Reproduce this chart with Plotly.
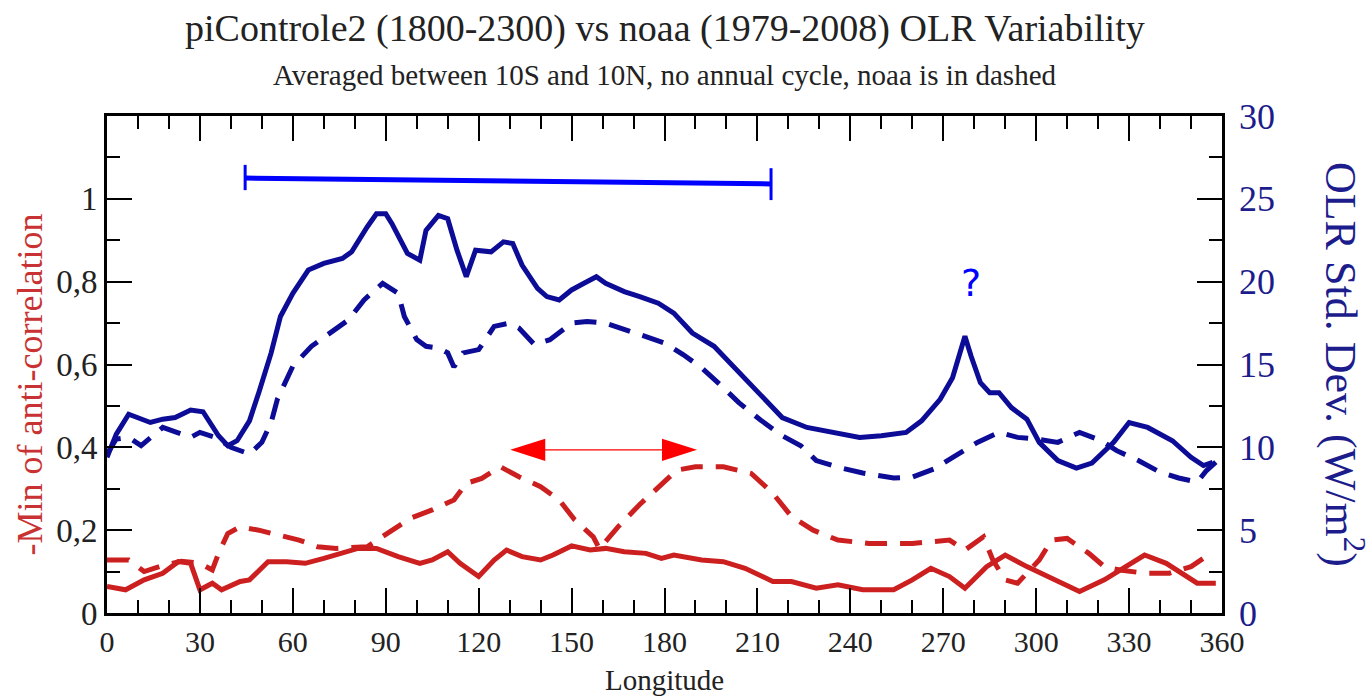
import plotly.graph_objects as go

# ---------------- data ----------------
lon_model_std = [0, 3, 7, 14, 18, 22, 27, 31, 36, 39, 42, 46, 49, 53, 56, 60, 65, 70, 76, 79, 84, 87, 90, 92,
                 97, 101, 103, 107, 110, 113, 116, 119, 124, 128, 131, 134, 139, 142, 146, 150, 154, 158, 161,
                 167, 172, 178, 183, 189, 196, 201, 207, 213, 218, 226, 234, 243, 250, 258, 263, 269, 273, 275,
                 277, 279, 282, 285, 288, 292, 297, 301, 307, 313, 318, 325, 330, 336, 344, 350, 354, 357]
model_std = [9.4, 10.8, 12.0, 11.5, 11.7, 11.8, 12.25, 12.15, 10.7, 10.1, 10.4, 11.6, 13.3, 15.7, 17.9, 19.3,
             20.7, 21.1, 21.4, 21.8, 23.3, 24.1, 24.1, 23.5, 21.7, 21.3, 23.1, 24.0, 23.8, 21.9, 20.3, 21.9,
             21.8, 22.4, 22.3, 21.0, 19.6, 19.1, 18.9, 19.5, 19.9, 20.3, 19.9, 19.4, 19.1, 18.7, 18.1, 16.9,
             16.1, 15.1, 13.9, 12.7, 11.8, 11.2, 10.9, 10.6, 10.7, 10.9, 11.6, 12.9, 14.2, 15.5, 16.7, 15.5,
             13.9, 13.3, 13.3, 12.4, 11.7, 10.3, 9.2, 8.75, 9.05, 10.3, 11.5, 11.2, 10.4, 9.4, 8.9, 9.1]

lon_noaa_std = [0, 3, 7, 11, 18, 23, 27, 30, 35, 40, 46, 50, 53, 55, 60, 66, 72, 78, 83, 89, 94, 96, 100, 103,
                107, 110, 112, 115, 120, 125, 130, 133, 138, 143, 150, 155, 161, 167, 174, 180, 186, 192, 199,
                204, 211, 218, 224, 229, 236, 244, 254, 260, 267, 273, 281, 288, 294, 300, 307, 314, 321, 326,
                333, 340, 346, 352, 355, 358]
noaa_std = [9.6, 10.5, 10.6, 10.1, 11.2, 10.9, 10.6, 10.9, 10.6, 10.0, 9.6, 10.3, 11.5, 12.9, 14.9, 16.1, 16.9,
            17.7, 18.9, 19.9, 19.3, 17.9, 16.5, 16.1, 16.0, 15.7, 14.85, 15.7, 15.9, 17.3, 17.5, 17.2, 16.2,
            16.5, 17.5, 17.6, 17.5, 17.1, 16.7, 16.3, 15.6, 14.8, 13.6, 12.7, 11.65, 10.7, 10.1, 9.2, 8.8,
            8.45, 8.15, 8.2, 8.7, 9.4, 10.3, 10.9, 10.6, 10.5, 10.3, 10.9, 10.4, 9.8, 9.2, 8.5, 8.15, 7.9,
            8.6, 9.1]

lon_model_corr = [0, 6, 12, 18, 23, 27, 30, 34, 37, 43, 46, 52, 58, 64, 70, 75, 81, 87, 94, 101, 105, 110, 114,
                  120, 125, 129, 134, 140, 144, 150, 156, 161, 167, 174, 179, 183, 192, 199, 206, 215, 221, 229,
                  236, 244, 254, 260, 266, 272, 277, 284, 290, 297, 305, 314, 322, 329, 335, 342, 347, 352, 358]
model_corr = [0.064, 0.056, 0.080, 0.096, 0.124, 0.120, 0.056, 0.072, 0.056, 0.076, 0.080, 0.124, 0.124,
              0.120, 0.132, 0.144, 0.156, 0.156, 0.136, 0.120, 0.128, 0.148, 0.120, 0.088, 0.128, 0.152,
              0.136, 0.128, 0.140, 0.162, 0.152, 0.156, 0.148, 0.144, 0.132, 0.140, 0.128, 0.124, 0.108,
              0.076, 0.076, 0.060, 0.068, 0.056, 0.056, 0.080, 0.108, 0.088, 0.060, 0.112, 0.140, 0.112,
              0.084, 0.052, 0.080, 0.112, 0.140, 0.120, 0.096, 0.072, 0.072]

lon_noaa_corr = [0, 7, 12, 18, 24, 30, 34, 36, 39, 43, 49, 56, 62, 68, 74, 84, 92, 98, 105, 112, 116, 121, 127,
                 133, 140, 146, 151, 157, 159, 165, 172, 178, 184, 190, 199, 208, 215, 221, 228, 236, 246, 260,
                 272, 277, 283, 286, 290, 294, 301, 305, 310, 317, 322, 327, 335, 343, 350, 354]
noaa_corr = [0.128, 0.128, 0.100, 0.115, 0.125, 0.120, 0.104, 0.144, 0.192, 0.208, 0.200, 0.188, 0.176,
             0.160, 0.156, 0.160, 0.200, 0.229, 0.249, 0.273, 0.313, 0.325, 0.353, 0.329, 0.305, 0.273,
             0.225, 0.184, 0.155, 0.208, 0.262, 0.305, 0.345, 0.353, 0.353, 0.337, 0.289, 0.233, 0.200,
             0.176, 0.168, 0.168, 0.176, 0.152, 0.184, 0.128, 0.080, 0.072, 0.128, 0.176, 0.180, 0.144,
             0.112, 0.104, 0.096, 0.096, 0.112, 0.132]

x_tick_vals = [0, 30, 60, 90, 120, 150, 180, 210, 240, 270, 300, 330, 360]
y_left_tick_vals = [0, 0.2, 0.4, 0.6, 0.8, 1.0]
y_left_tick_text = ["0", "0,2", "0,4", "0,6", "0,8", "1"]
y_right_tick_vals = [0, 5, 10, 15, 20, 25, 30]

title_text = "piControle2 (1800-2300) vs noaa (1979-2008) OLR Variability"
subtitle_text = "Averaged between 10S and 10N, no annual cycle, noaa is in dashed"

# ---------------- styles ----------------
RED = "#cc1f1f"
BLUE = "#0c0c96"
SERIF = "Liberation Serif"
DASH = "22px,13px"
LW = 5

fig = go.Figure()
fig.add_trace(go.Scatter(x=lon_model_corr, y=model_corr, mode="lines",
                         line=dict(color=RED, width=LW), yaxis="y", showlegend=False))
fig.add_trace(go.Scatter(x=lon_noaa_corr, y=noaa_corr, mode="lines",
                         line=dict(color=RED, width=LW, dash=DASH), yaxis="y", showlegend=False))
fig.add_trace(go.Scatter(x=lon_model_std, y=model_std, mode="lines",
                         line=dict(color=BLUE, width=LW), yaxis="y2", showlegend=False))
fig.add_trace(go.Scatter(x=lon_noaa_std, y=noaa_std, mode="lines",
                         line=dict(color=BLUE, width=LW, dash=DASH), yaxis="y2", showlegend=False))

# annotations: blue range bar, red double arrow, question mark
bar_color = "#0000ff"
fig.add_shape(type="line", xref="x", yref="y", x0=44.6, y0=1.050, x1=214.4, y1=1.036,
              line=dict(color=bar_color, width=5))
fig.add_shape(type="line", xref="x", yref="y", x0=44.6, y0=1.082, x1=44.6, y1=1.021,
              line=dict(color=bar_color, width=3))
fig.add_shape(type="line", xref="x", yref="y", x0=214.4, y0=1.074, x1=214.4, y1=0.997,
              line=dict(color=bar_color, width=3))

fig.add_shape(type="line", xref="x", yref="y", x0=135, y0=0.394, x1=186, y1=0.394,
              line=dict(color="#ff0000", width=1.2))
fig.add_shape(type="path", xref="x", yref="y",
              path="M 130.2,0.394 L 141.5,0.421 L 141.5,0.367 Z",
              fillcolor="#ff0000", line=dict(color="#ff0000", width=0))
fig.add_shape(type="path", xref="x", yref="y",
              path="M 190.5,0.394 L 179.2,0.421 L 179.2,0.367 Z",
              fillcolor="#ff0000", line=dict(color="#ff0000", width=0))

fig.add_annotation(x=279, y=0.797, xref="x", yref="y", text="?", showarrow=False,
                   font=dict(family="DejaVu Sans", size=38, color="#0000ff"))

# titles
fig.add_annotation(x=0.5, y=1.177, xref="paper", yref="paper", text=title_text, showarrow=False,
                   font=dict(family=SERIF, size=38, color="#222222"), yanchor="middle")
fig.add_annotation(x=0.5, y=1.0825, xref="paper", yref="paper", text=subtitle_text, showarrow=False,
                   font=dict(family=SERIF, size=29, color="#222222"), yanchor="middle")
fig.add_annotation(x=0.5, y=-0.135, xref="paper", yref="paper", text="Longitude", showarrow=False,
                   font=dict(family=SERIF, size=29, color="#222222"), yanchor="middle")
fig.add_annotation(x=-0.069, y=0.46, xref="paper", yref="paper", text="-Min of anti-correlation",
                   showarrow=False, textangle=-90,
                   font=dict(family=SERIF, size=36, color="#c83232"), xanchor="center", yanchor="middle")
fig.add_annotation(x=1.109, y=0.50, xref="paper", yref="paper", text="OLR Std. Dev. (W/m<sup>2</sup>)",
                   showarrow=False, textangle=90,
                   font=dict(family=SERIF, size=44, color="#1c1c8c"), xanchor="center", yanchor="middle")

fig.update_layout(
    width=1372, height=696,
    margin=dict(l=107, r=150, t=116, b=83),
    paper_bgcolor="white", plot_bgcolor="white",
    xaxis=dict(range=[0, 360], tickmode="array", tickvals=x_tick_vals,
               ticks="inside", ticklen=25, tickwidth=2, tickcolor="black",
               minor=dict(tickmode="linear", tick0=0, dtick=10, ticks="inside", ticklen=13,
                          tickwidth=2, tickcolor="black", showgrid=False),
               showline=True, linewidth=3, linecolor="black", mirror="ticks",
               showgrid=False, zeroline=False,
               tickfont=dict(family=SERIF, size=30, color="#222222")),
    yaxis=dict(range=[0, 1.2], tickmode="array", tickvals=y_left_tick_vals, ticktext=y_left_tick_text,
               ticks="inside", ticklen=25, tickwidth=2, tickcolor="black",
               minor=dict(tickmode="linear", tick0=0, dtick=0.1, ticks="inside", ticklen=13,
                          tickwidth=2, tickcolor="black", showgrid=False),
               showline=True, linewidth=3, linecolor="black", mirror=True,
               showgrid=False, zeroline=False,
               tickfont=dict(family=SERIF, size=33, color="#222222")),
    yaxis2=dict(range=[0, 30], overlaying="y", side="right", tickmode="array",
                tickvals=y_right_tick_vals,
                ticks="inside", ticklen=25, tickwidth=2, tickcolor="black",
                minor=dict(tickmode="linear", tick0=0, dtick=2.5, ticks="inside", ticklen=13,
                           tickwidth=2, tickcolor="black", showgrid=False),
                showline=False, showgrid=False, zeroline=False, ticklabelstandoff=16,
                tickfont=dict(family=SERIF, size=36, color="#1c1c8c")),
    showlegend=False,
)

fig.write_html("out.html")
